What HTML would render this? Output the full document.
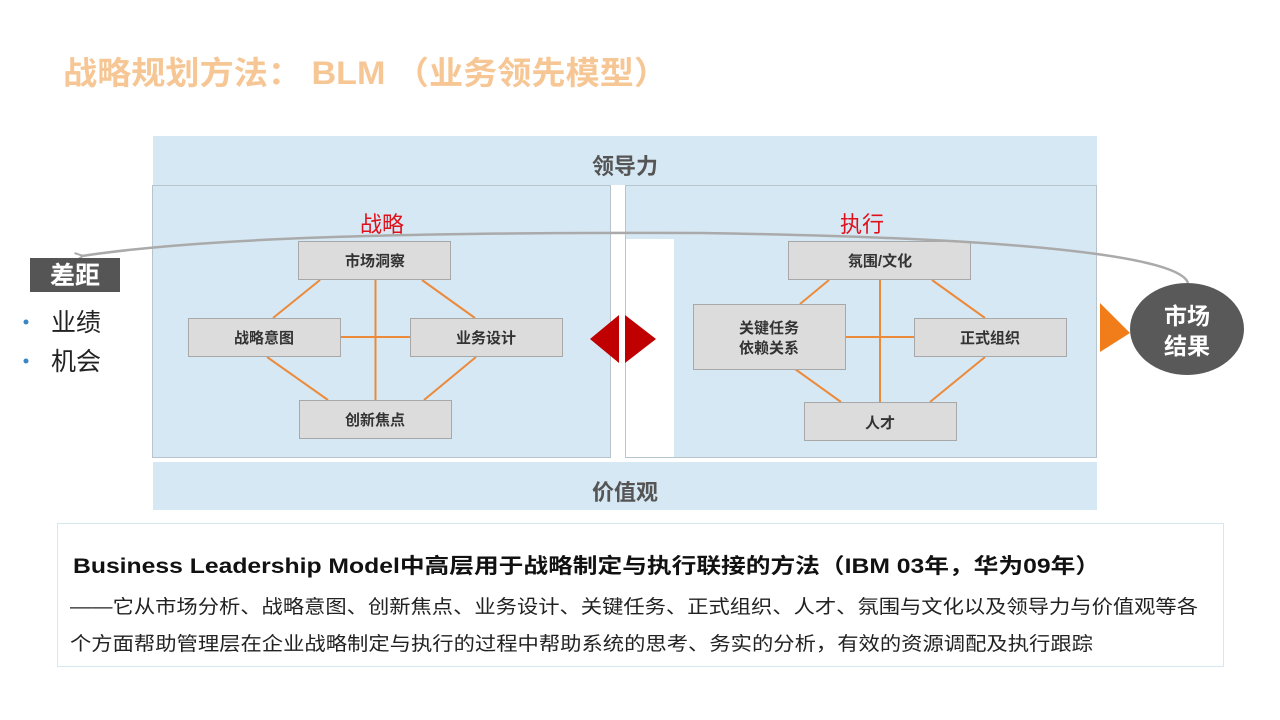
<!DOCTYPE html>
<html><head><meta charset="utf-8"><style>
html,body{margin:0;padding:0;background:#fff;}
svg{display:block;font-family:"Liberation Sans","Noto Sans CJK SC",sans-serif;}
</style></head><body>
<svg width="1280" height="720" viewBox="0 0 1280 720" xmlns="http://www.w3.org/2000/svg">
<defs>
<marker id="ah" markerWidth="10" markerHeight="10" refX="2" refY="5" orient="auto" markerUnits="userSpaceOnUse"><path d="M9,1 L1,5 L9,9" fill="none" stroke="#aaa" stroke-width="2"/></marker>
</defs>
<text x="63" y="84" font-size="32" font-weight="bold" fill="#f6c795" textLength="605" lengthAdjust="spacingAndGlyphs">战略规划方法： BLM （业务领先模型）</text>

<rect x="153" y="136" width="944" height="374" fill="#d6e8f4"/>
<text x="625" y="174" font-size="22" font-weight="bold" fill="#555" text-anchor="middle">领导力</text>
<rect x="152.5" y="185.5" width="458" height="272" fill="#d6e8f4" stroke="#b8c4cc"/>
<rect x="611" y="185" width="14" height="275" fill="#fff"/>
<rect x="625.5" y="185.5" width="471" height="272" fill="#d6e8f4" stroke="#b8c4cc"/>
<rect x="626" y="239" width="48" height="218" fill="#fff"/>
<rect x="150" y="458" width="950" height="4" fill="#fff"/>
<text x="625" y="500" font-size="22" font-weight="bold" fill="#555" text-anchor="middle">价值观</text>

<text x="382" y="232" font-size="22" fill="#e0101a" text-anchor="middle">战略</text>
<text x="862" y="232" font-size="22" fill="#e0101a" text-anchor="middle">执行</text>

<g stroke="#ec8a3a" stroke-width="2">
<line x1="320" y1="280" x2="273" y2="318"/><line x1="422" y1="280" x2="475" y2="318"/>
<line x1="375.5" y1="279" x2="375.5" y2="400"/><line x1="341" y1="337" x2="410" y2="337"/>
<line x1="267" y1="357" x2="328" y2="400"/><line x1="476" y1="357" x2="424" y2="400"/>
<line x1="829" y1="280" x2="800" y2="304"/><line x1="932" y1="280" x2="985" y2="318"/>
<line x1="880" y1="279" x2="880" y2="402"/><line x1="845" y1="337" x2="914" y2="337"/>
<line x1="795" y1="369" x2="841" y2="402"/><line x1="985" y1="357" x2="930" y2="402"/>
</g>

<g fill="#dcdcdc" stroke="#a8a8a8" stroke-width="1">
<rect x="298.5" y="241.5" width="152" height="38"/>
<rect x="188.5" y="318.5" width="152" height="38"/>
<rect x="410.5" y="318.5" width="152" height="38"/>
<rect x="299.5" y="400.5" width="152" height="38"/>
<rect x="788.5" y="241.5" width="182" height="38"/>
<rect x="693.5" y="304.5" width="152" height="65"/>
<rect x="914.5" y="318.5" width="152" height="38"/>
<rect x="804.5" y="402.5" width="152" height="38"/>
</g>
<g font-size="15" font-weight="bold" fill="#333" text-anchor="middle">
<text x="375" y="266">市场洞察</text>
<text x="264" y="343">战略意图</text>
<text x="486" y="343">业务设计</text>
<text x="375" y="425">创新焦点</text>
<text x="880" y="266">氛围/文化</text>
<text x="769" y="333">关键任务</text>
<text x="769" y="353">依赖关系</text>
<text x="990" y="343">正式组织</text>
<text x="880" y="428">人才</text>
</g>

<path d="M619,315 L590,339 L619,363 Z" fill="#c00000"/>
<path d="M625,315 L656,339 L625,363 Z" fill="#c00000"/>
<path d="M1100,303 L1130,333 L1100,352 Z" fill="#f07d1a"/>
<ellipse cx="1187" cy="329" rx="57" ry="46" fill="#595959"/>
<text x="1187" y="324" font-size="23" font-weight="bold" fill="#fff" text-anchor="middle">市场</text>
<text x="1187" y="354" font-size="23" font-weight="bold" fill="#fff" text-anchor="middle">结果</text>

<path d="M1188,283 C1180,258 1040,238 700,233 C400,232 200,238 82,256" fill="none" stroke="#aaa" stroke-width="2.5" marker-end="url(#ah)"/>

<rect x="30" y="258" width="90" height="34" fill="#555"/>
<text x="75" y="284" font-size="25" font-weight="bold" fill="#fff" text-anchor="middle">差距</text>
<circle cx="26" cy="322" r="2.5" fill="#3a86c4"/>
<circle cx="26" cy="361" r="2.5" fill="#3a86c4"/>
<text x="51" y="331" font-size="25" fill="#222">业绩</text>
<text x="51" y="370" font-size="25" fill="#222">机会</text>

<rect x="57.5" y="523.5" width="1166" height="143" fill="#fff" stroke="#d6e8ef"/>
<text x="73" y="573" font-size="21" font-weight="bold" fill="#111" textLength="1027" lengthAdjust="spacingAndGlyphs">Business Leadership Model中高层用于战略制定与执行联接的方法（IBM 03年，华为09年）</text>
<text x="70" y="613" font-size="19" fill="#222" textLength="1128" lengthAdjust="spacingAndGlyphs">——它从市场分析、战略意图、创新焦点、业务设计、关键任务、正式组织、人才、氛围与文化以及领导力与价值观等各</text>
<text x="70" y="650" font-size="19" fill="#222" textLength="1023" lengthAdjust="spacingAndGlyphs">个方面帮助管理层在企业战略制定与执行的过程中帮助系统的思考、务实的分析，有效的资源调配及执行跟踪</text>
</svg>
</body></html>
